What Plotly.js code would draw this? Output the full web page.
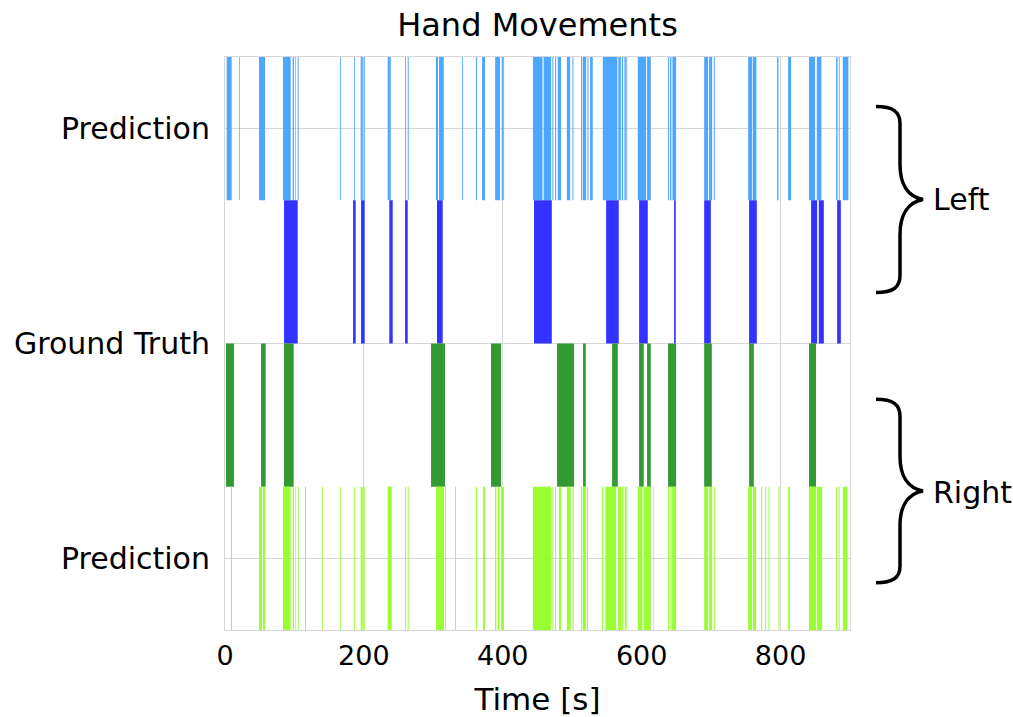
<!DOCTYPE html>
<html>
<head>
<meta charset="utf-8">
<script src="https://cdn.plot.ly/plotly-3.0.1.min.js"></script>
<style>html,body{margin:0;padding:0;background:#fff;}#chart{width:1013px;height:717px;}</style>
</head>
<body>
<div id="chart"></div>
<script>
// Event intervals [s] (start / end)
var leftPredStart = [2.4,20.2,49,83.5,97.5,101.3,104.7,165.6,185.8,195.4,199.7,234.3,259.3,263.1,303.9,308.2,341.3,361.5,370.2,389,398.5,443.4,458.8,471.4,475.3,479.2,492.2,500.3,512.8,515.2,521.9,525.7,544,566.5,571.4,575.2,578,594.4,607.8,638,640.9,644.3,690,697.1,703.9,753.3,760,795,810.9,841,852.2,880,883.9,889.6];
var leftPredEnd   = [9.6,21.2,57.6,94.6,99.4,102.3,106.1,166.8,187,198.3,201.2,238.6,260.5,264.5,306.8,315,342.5,362.9,374.5,396,401.4,457.2,469.6,472.8,476.8,484,497,501.7,514.3,520,523.3,529.6,565,570,573.3,577.2,579.2,606.4,613.1,639.5,642.8,649.6,695.6,701.5,705.3,759,765.2,797,815.2,849.7,858.9,882,885.1,897.7];

var leftTruthStart = [85,184.4,195.9,236.6,259.3,305.3,445,548.8,596.3,646.7,690,754.7,844,855.1,881.5];
var leftTruthEnd   = [104.7,188.2,201.2,241.5,263.1,313.5,470.6,567,608.8,649.1,699.6,765.8,852.7,862.3,886.8];

var rightTruthStart = [1.4,51.9,85,296.7,383.1,478.2,515.6,557.4,596.3,607.8,638,690,754.7,841];
var rightTruthEnd   = [12.9,58.6,98.9,316.9,397.5,502.7,519.5,565.6,603,613.1,649.6,701,761.5,851.1];

var rightPredStart = [8.6,49,54.7,83.5,97.5,101.3,104.7,115.2,139.3,165.6,185.8,195.4,199.7,234.3,259.3,263.1,303.9,316.9,331.3,361.5,371.6,388.9,392.8,397.5,443.4,471.4,475.3,481,492.2,500.7,512.8,515.2,521.4,543,547.8,566,571.8,575.7,578,594.4,603,616.4,638,641.4,643.8,690,697.1,703.9,753.3,760.4,772,777.8,782.6,797,810.9,841,852.2,880,883.9,889.6];
var rightPredEnd   = [10.1,53.3,57.6,94.6,99.4,102.3,106.1,116.7,140.7,166.8,187,198.3,201.2,240.1,260.7,264.5,315.4,318.3,332.7,362.9,374.5,390.7,395.1,401.8,469.6,472.8,476.8,484,497.9,502.2,514.3,520,522.8,544.4,563.2,570.4,573.7,577.6,579.2,601,613.1,617.4,640,642.8,649.6,695.6,701.5,705.3,759,764.7,773.5,779.2,784,798.4,813.3,851.1,859.9,882,885.1,896.3];

var rowLabels = ['Prediction','Ground Truth','Prediction'];
var rowTickPos = [0.5, 2, 3.5];
var handLabels = ['Left','Right'];
var handCenters = [3.005, 0.97];
var xTitle = 'Time [s]';
var chartTitle = 'Hand Movements';

function track(starts, ends, row, color, name){
  var dur = starts.map(function(s,i){ return ends[i]-s; });
  return {
    type:'bar', orientation:'h', name:name,
    base: starts, x: dur,
    y: starts.map(function(){ return row; }),
    width: starts.map(function(){ return 1; }),
    marker:{color:color, line:{width:0}},
    hoverinfo:'skip', showlegend:false
  };
}

var data = [
  track(leftPredStart, leftPredEnd, 3.5, '#4da6ff', 'Left prediction'),
  track(leftTruthStart, leftTruthEnd, 2.5, '#3333ff', 'Left ground truth'),
  track(rightTruthStart, rightTruthEnd, 1.5, '#339933', 'Right ground truth'),
  track(rightPredStart, rightPredEnd, 0.5, '#99ff33', 'Right prediction')
];

function brace(yc, h){
  var xe=1.0416, xc=1.0688, xs=1.08, xm=1.0928, xt=1.1168;
  var a=h, b=h*0.946, c=h*0.817, d=h*0.376, e=h*0.162, f=h*0.03;
  return 'M '+xe+','+(yc+a)+' C '+xc+','+(yc+a)+' '+xs+','+(yc+b)+' '+xs+','+(yc+c)+
         ' L '+xs+','+(yc+d)+' C '+xs+','+(yc+e)+' '+xm+','+(yc+f)+' '+xt+','+yc+
         ' C '+xm+','+(yc-f)+' '+xs+','+(yc-e)+' '+xs+','+(yc-d)+
         ' L '+xs+','+(yc-c)+' C '+xs+','+(yc-b)+' '+xc+','+(yc-a)+' '+xe+','+(yc-a);
}

var font = 'DejaVu Sans, Verdana, sans-serif';
var layout = {
  width:1013, height:717,
  margin:{l:225, r:163, t:57, b:87},
  paper_bgcolor:'#fff', plot_bgcolor:'#fff',
  barmode:'overlay',
  font:{family:font, size:26, color:'#000'},
  title:{text:chartTitle, font:{family:font, size:32, color:'#000'}, x:0.5, xref:'paper', xanchor:'center', y:0.965, yref:'container', yanchor:'middle'},
  xaxis:{range:[0,900], dtick:200, tick0:0, showgrid:true, gridcolor:'#d6d6d6', gridwidth:1,
         showline:true, mirror:true, linecolor:'#d6d6d6', linewidth:1, zeroline:false,
         ticks:'', tickfont:{size:27}, ticklabelstandoff:2, title:{text:xTitle, font:{size:31}, standoff:21}},
  yaxis:{range:[0,4], tickvals:rowTickPos, ticktext:rowLabels, showgrid:true, gridcolor:'#d6d6d6', gridwidth:1,
         showline:true, mirror:true, linecolor:'#d6d6d6', linewidth:1, zeroline:false,
         ticks:'', tickfont:{size:30}, ticklabelstandoff:8},
  shapes:[
    {type:'path', xref:'paper', yref:'y', path:brace(handCenters[0],0.649), line:{color:'#000', width:3.5}},
    {type:'path', xref:'paper', yref:'y', path:brace(handCenters[1],0.64), line:{color:'#000', width:3.5}}
  ],
  annotations:[
    {text:handLabels[0], xref:'paper', yref:'y', x:1.1296, y:handCenters[0], xanchor:'left', yanchor:'middle', showarrow:false, font:{size:30}},
    {text:handLabels[1], xref:'paper', yref:'y', x:1.1296, y:handCenters[1]-0.01, xanchor:'left', yanchor:'middle', showarrow:false, font:{size:30}}
  ]
};

Plotly.newPlot('chart', data, layout, {displayModeBar:false, staticPlot:true});
</script>
</body>
</html>
